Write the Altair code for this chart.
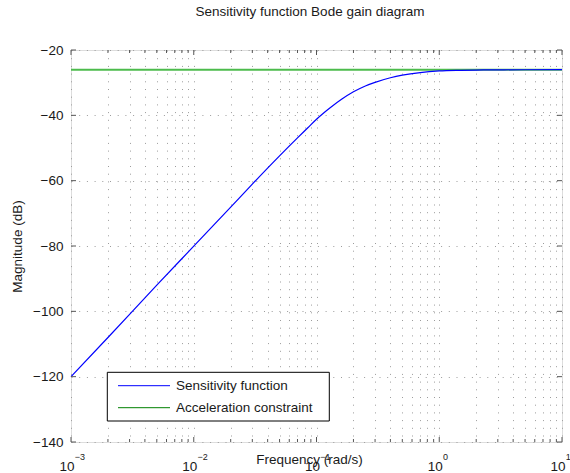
import altair as alt
import pandas as pd

# Sensitivity function magnitude (dB) at selected frequencies (rad/s)
freq = [0.001, 0.002, 0.005, 0.01, 0.02, 0.03, 0.05, 0.07, 0.085, 0.1, 0.115,
        0.13, 0.16, 0.2, 0.25, 0.3, 0.4, 0.5, 0.7, 1.0, 1.5, 2.0, 3.0, 5.0, 10.0]
sens_db = [-120.0, -108.0, -92.0, -80.05, -68.1, -61.05, -52.4, -46.9, -43.8,
           -41.2, -39.2, -37.6, -35.1, -32.8, -31.0, -29.9, -28.5, -27.7,
           -26.9, -26.42, -26.22, -26.14, -26.07, -26.04, -26.02]

# Acceleration constraint level
limit_freq = [0.001, 10.0]
limit_db = [-26.02, -26.02]

# Axis ticks
decades = [0.001, 0.01, 0.1, 1.0, 10.0]
exponents = ["\u22123", "\u22122", "\u22121", "0", "1"]
mag_ticks = [-140, -120, -100, -80, -60, -40, -20]

legend_labels = ["Sensitivity function", "Acceleration constraint"]
legend_colors = ["#0000ff", "#008000"]
title_text = "Sensitivity function Bode gain diagram"

W, H = 491, 392
FONT = "Liberation Sans"
FS = 13.5
TXT = "#1a1a1a"
FRAME = "#555555"

minor_x = [round(d * m, 6) for d in decades[:-1] for m in range(2, 10)]
grid_x = sorted(decades + minor_x)

x_scale = alt.Scale(type="log", domain=[0.001, 10], nice=False)
y_scale = alt.Scale(domain=[-140, -20], nice=False, zero=False)

GRID = dict(grid=True, gridDash=[1, 6.7], gridColor="#9c9c9c", gridWidth=1,
            ticks=False, tickSize=0, domain=False)

X_AXIS = alt.Axis(values=grid_x, labels=False, title="Frequency (rad/s)",
                  titleFont=FONT, titleFontSize=FS, titleFontWeight="normal",
                  titleColor=TXT, titleX=238, titleY=21.5, titleAlign="center",
                  titleBaseline="alphabetic", **GRID)
Y_AXIS = alt.Axis(values=mag_ticks, labelFont=FONT, labelFontSize=FS,
                  labelColor=TXT, labelPadding=8, labelBaseline="middle",
                  title="Magnitude (dB)", titleFont=FONT, titleFontSize=FS,
                  titleFontWeight="normal", titleColor=TXT, titleX=-50,
                  titleY=196, titleAngle=270, titleAlign="center",
                  titleBaseline="alphabetic", **GRID)


def X(field="f"):
    return alt.X(f"{field}:Q", scale=x_scale, axis=X_AXIS)


def Y(field="db"):
    return alt.Y(f"{field}:Q", scale=y_scale, axis=Y_AXIS)


sens_df = pd.DataFrame({"f": freq, "db": sens_db})
limit_df = pd.DataFrame({"f": limit_freq, "db": limit_db})
dec_df = pd.DataFrame({"f": decades, "exp": exponents})
minor_df = pd.DataFrame({"f": minor_x})
ytick_df = pd.DataFrame({"db": mag_ticks})

limit_line = alt.Chart(limit_df).mark_line(color="#4cbb4c", strokeWidth=2).encode(
    x=X(), y=Y())
sens_line = alt.Chart(sens_df).mark_line(
    color="#0000ff", strokeWidth=1.2, interpolate="monotone").encode(x=X(), y=Y())

# Inward tick marks on the frame
tick_style = dict(color=FRAME, strokeWidth=1)
x_major_bot = alt.Chart(dec_df).mark_rule(**tick_style).encode(
    x=X(), y=alt.value(H), y2=alt.value(H - 5))
x_major_top = alt.Chart(dec_df).mark_rule(**tick_style).encode(
    x=X(), y=alt.value(0), y2=alt.value(5))
x_minor_bot = alt.Chart(minor_df).mark_rule(**tick_style).encode(
    x=X(), y=alt.value(H), y2=alt.value(H - 3))
x_minor_top = alt.Chart(minor_df).mark_rule(**tick_style).encode(
    x=X(), y=alt.value(0), y2=alt.value(3))
y_left = alt.Chart(ytick_df).mark_rule(**tick_style).encode(
    y=Y(), x=alt.value(0), x2=alt.value(5))
y_right = alt.Chart(ytick_df).mark_rule(**tick_style).encode(
    y=Y(), x=alt.value(W), x2=alt.value(W - 5))

# Decade labels: base and exponent
base_lbl = alt.Chart(dec_df).mark_text(
    align="right", baseline="alphabetic", dx=3.6, font=FONT, fontSize=FS,
    color=TXT).encode(x=X(), y=alt.value(H + 29), text=alt.value("10"))
exp_lbl = alt.Chart(dec_df).mark_text(
    align="left", baseline="alphabetic", dx=3.8, font=FONT, fontSize=9,
    color=TXT).encode(x=X(), y=alt.value(H + 18), text="exp:N")

title = alt.Chart(pd.DataFrame({"t": [title_text]})).mark_text(
    align="center", baseline="alphabetic", font=FONT, fontSize=FS,
    color=TXT).encode(x=alt.value(239), y=alt.value(-33.7), text="t:N")

# Legend box
leg_box = alt.Chart(pd.DataFrame({"a": [0]})).mark_rect(
    fill="white", stroke="black", strokeWidth=1).encode(
    x=alt.value(36.3), x2=alt.value(258.3), y=alt.value(322.3), y2=alt.value(371))
leg_layers = []
for i, (lab, col) in enumerate(zip(legend_labels, legend_colors)):
    ly = 335.7 + 22 * i
    ldf = pd.DataFrame({"t": [lab]})
    leg_layers.append(alt.Chart(ldf).mark_rule(color=col, strokeWidth=1).encode(
        x=alt.value(47), x2=alt.value(99), y=alt.value(ly)))
    leg_layers.append(alt.Chart(ldf).mark_text(
        align="left", baseline="middle", font=FONT, fontSize=FS, color=TXT).encode(
        x=alt.value(105), y=alt.value(ly), text="t:N"))

chart = alt.layer(
    limit_line, sens_line,
    x_major_bot, x_major_top, x_minor_bot, x_minor_top, y_left, y_right,
    base_lbl, exp_lbl, title, leg_box, *leg_layers
).properties(
    width=W, height=H, autosize="none",
    padding={"left": 71, "top": 50, "right": 8, "bottom": 31},
).configure_view(stroke=FRAME, strokeWidth=1).configure(background="white")

chart.save("out.html", embed_options={"renderer": "svg", "actions": False})
